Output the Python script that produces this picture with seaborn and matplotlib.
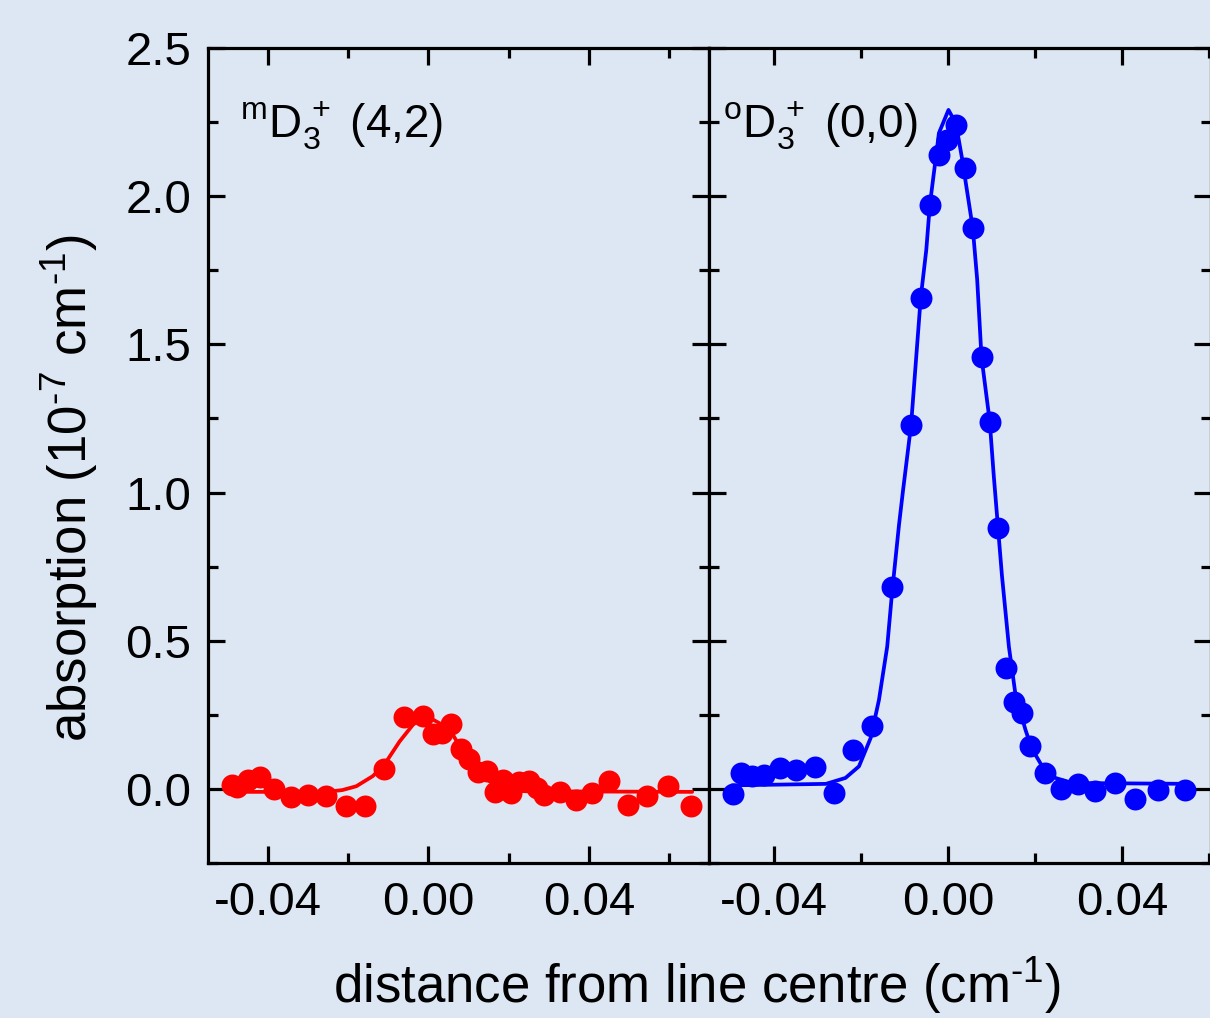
import matplotlib
matplotlib.use("Agg")
import matplotlib.pyplot as plt
from matplotlib.ticker import MultipleLocator, FormatStrFormatter
import seaborn as sns
import pandas as pd

# --- measured absorption, mD3+ (4,2) line ---
red_x = [-0.0490, -0.0477, -0.0450, -0.0421, -0.0385, -0.0344, -0.0301, -0.0255,
         -0.0206, -0.0159, -0.0110, -0.0060, -0.0014, 0.0011, 0.0034, 0.0057,
         0.0080, 0.0102, 0.0124, 0.0145, 0.0167, 0.0187, 0.0207, 0.0227, 0.0250,
         0.0270, 0.0289, 0.0328, 0.0369, 0.0409, 0.0451, 0.0497, 0.0545, 0.0597,
         0.0656]
red_y = [0.012, 0.005, 0.031, 0.040, 0.000, -0.028, -0.019, -0.025, -0.059,
         -0.059, 0.068, 0.241, 0.245, 0.185, 0.188, 0.219, 0.136, 0.102, 0.057,
         0.060, -0.011, 0.031, -0.013, 0.022, 0.026, 0.003, -0.019, -0.011,
         -0.037, -0.013, 0.028, -0.053, -0.023, 0.009, -0.056]

# fitted profile, mD3+ (4,2)
red_fit_x = [-0.0479, -0.0255, -0.0215, -0.0180, -0.0139, -0.0110, -0.0072,
             -0.0039, -0.0018, 0.0002, 0.0027, 0.0061, 0.0085, 0.0119, 0.0152,
             0.0193, 0.0243, 0.0658]
red_fit_y = [-0.010, -0.010, -0.004, 0.009, 0.043, 0.082, 0.160, 0.216, 0.239,
             0.241, 0.222, 0.183, 0.127, 0.071, 0.026, -0.002, -0.008, -0.010]

# --- measured absorption, oD3+ (0,0) line ---
blue_x = [-0.0495, -0.0477, -0.0452, -0.0424, -0.0387, -0.0349, -0.0306, -0.0262,
          -0.0218, -0.0174, -0.0129, -0.0085, -0.0063, -0.0042, -0.0021, -0.0002,
          0.0019, 0.0038, 0.0057, 0.0077, 0.0096, 0.0115, 0.0133, 0.0151, 0.0169,
          0.0188, 0.0224, 0.0260, 0.0298, 0.0339, 0.0383, 0.0431, 0.0484, 0.0546]
blue_y = [-0.017, 0.052, 0.043, 0.046, 0.071, 0.065, 0.074, -0.013, 0.132, 0.211,
          0.680, 1.229, 1.655, 1.969, 2.138, 2.190, 2.239, 2.095, 1.891, 1.456,
          1.239, 0.881, 0.407, 0.293, 0.256, 0.144, 0.054, 0.000, 0.017, -0.008,
          0.020, -0.033, -0.003, -0.002]

# fitted profile, oD3+ (0,0)
blue_fit_x = [-0.0497, -0.0281, -0.0236, -0.0205, -0.0178, -0.0159, -0.0140,
              -0.0129, -0.0113, -0.0104, -0.0085, -0.0063, -0.0050, -0.0042,
              -0.0021, 0.0001, 0.0018, 0.0032, 0.0057, 0.0067, 0.0077, 0.0096,
              0.0105, 0.0115, 0.0124, 0.0140, 0.0155, 0.0178, 0.0193, 0.0216,
              0.0247, 0.0286, 0.0560]
blue_fit_y = [0.012, 0.017, 0.037, 0.076, 0.172, 0.300, 0.480, 0.660, 0.889,
              1.002, 1.229, 1.655, 1.820, 1.969, 2.213, 2.291, 2.246, 2.129,
              1.891, 1.719, 1.456, 1.239, 1.060, 0.881, 0.720, 0.480, 0.320,
              0.200, 0.135, 0.078, 0.037, 0.020, 0.017]

panel_labels = [r"$^{\mathrm{m}}\mathrm{D}_{3}^{\,+}$ (4,2)",
                r"$^{\mathrm{o}}\mathrm{D}_{3}^{\,+}$ (0,0)"]
y_ticks = [0.0, 0.5, 1.0, 1.5, 2.0, 2.5]
x_ticks = [-0.04, 0.00, 0.04]

BG = "#dce7f3"

sns.set_theme(style="ticks")
plt.rcParams["font.family"] = ["Liberation Sans", "DejaVu Sans"]
plt.rcParams["mathtext.fontset"] = "custom"
plt.rcParams["mathtext.rm"] = "Liberation Sans"
plt.rcParams["mathtext.it"] = "Liberation Sans"
plt.rcParams["axes.unicode_minus"] = False
plt.rcParams["text.color"] = "black"
plt.rcParams["axes.labelcolor"] = "black"
plt.rcParams["xtick.color"] = "black"
plt.rcParams["ytick.color"] = "black"

W, H = 1210, 1018
fig = plt.figure(figsize=(W / 100, H / 100), dpi=100, facecolor=BG)

top, bottom = 48, 863
ax1 = fig.add_axes([208 / W, 1 - bottom / H, 501 / W, (bottom - top) / H])
ax2 = fig.add_axes([709 / W, 1 - bottom / H, 502 / W, (bottom - top) / H])

red_df = pd.DataFrame({"x": red_x, "y": red_y})
red_fit = pd.DataFrame({"x": red_fit_x, "y": red_fit_y})
blue_df = pd.DataFrame({"x": blue_x, "y": blue_y})
blue_fit = pd.DataFrame({"x": blue_fit_x, "y": blue_fit_y})

for ax, pts, fit, col in [(ax1, red_df, red_fit, "#ff0000"),
                          (ax2, blue_df, blue_fit, "#0000ff")]:
    ax.set_facecolor(BG)
    sns.lineplot(data=fit, x="x", y="y", ax=ax, color=col, lw=2.7,
                 estimator=None, sort=False, zorder=2)
    sns.scatterplot(data=pts, x="x", y="y", ax=ax, color=col, s=250,
                    linewidth=0, zorder=3)
    ax.set_ylim(-0.25, 2.5)
    ax.set_xlabel("")
    ax.set_ylabel("")
    ax.xaxis.set_major_locator(MultipleLocator(0.04))
    ax.xaxis.set_minor_locator(MultipleLocator(0.02))
    ax.yaxis.set_major_locator(MultipleLocator(0.5))
    ax.yaxis.set_minor_locator(MultipleLocator(0.25))
    ax.xaxis.set_major_formatter(FormatStrFormatter("%.2f"))
    ax.yaxis.set_major_formatter(FormatStrFormatter("%.1f"))
    ax.tick_params(which="both", direction="in", top=True, right=True,
                   width=2.3, colors="black", labelsize=34)
    ax.tick_params(which="major", length=12)
    ax.tick_params(which="minor", length=7)
    ax.tick_params(axis="x", which="major", pad=13)
    ax.tick_params(axis="y", which="major", pad=12)
    for sp in ax.spines.values():
        sp.set_linewidth(2.3)
        sp.set_color("black")
        sp.set_visible(True)

ax1.set_xlim(-0.055, 0.070)
ax2.set_xlim(-0.055, 0.0605)
ax2.tick_params(axis="y", labelleft=False)

ax1.set_xticks(x_ticks)
ax2.set_xticks(x_ticks)
ax1.set_yticks(y_ticks)

ax1.text(0.064, 0.890, panel_labels[0], transform=ax1.transAxes,
         fontsize=33, ha="left", va="baseline")
ax2.text(0.028, 0.890, panel_labels[1], transform=ax2.transAxes,
         fontsize=33, ha="left", va="baseline")

fig.text(70 / W, 1 - 488 / H, r"absorption (10$^{\text{-7}}$ cm$^{\text{-1}}$)",
         rotation=90, ha="center", va="center", fontsize=38)
fig.text(697 / W, 1 - 1003 / H, r"distance from line centre (cm$^{\text{-1}}$)",
         ha="center", va="baseline", fontsize=38)

fig.savefig("out.png", dpi=100, facecolor=BG)
